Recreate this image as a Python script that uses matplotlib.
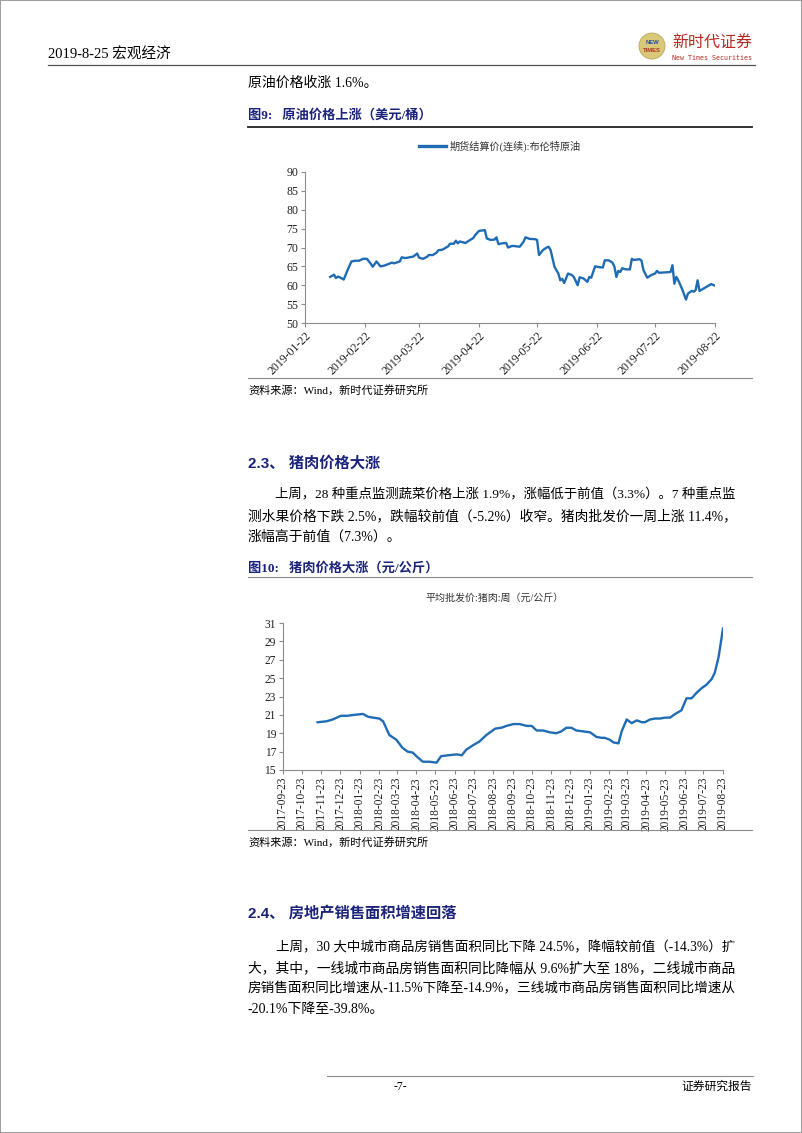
import pandas as pd
import matplotlib
matplotlib.use('Agg')
import matplotlib.pyplot as plt
import matplotlib.dates as mdates
from matplotlib.lines import Line2D
from matplotlib.patches import Rectangle, Ellipse

W, H = 802, 1133
SERIF = ['Liberation Serif', 'Noto Sans CJK SC']
SANS = ['Liberation Sans', 'Noto Sans CJK SC']
NAVY = '#1b237a'
BLUE = '#1f6cb4'

# Brent crude futures settlement price (USD/bbl)
oil_dates = ['2019-02-04', '2019-02-06', '2019-02-07', '2019-02-08', '2019-02-09', '2019-02-11',
             '2019-02-13', '2019-02-15', '2019-02-17', '2019-02-19', '2019-02-21', '2019-02-23',
             '2019-02-25', '2019-02-26', '2019-02-28', '2019-03-02', '2019-03-04', '2019-03-07',
             '2019-03-08', '2019-03-09', '2019-03-12', '2019-03-13', '2019-03-15', '2019-03-18',
             '2019-03-19', '2019-03-21', '2019-03-22', '2019-03-24', '2019-03-26', '2019-03-27',
             '2019-03-29', '2019-03-31', '2019-04-01', '2019-04-03', '2019-04-06', '2019-04-07',
             '2019-04-09', '2019-04-10', '2019-04-11', '2019-04-12', '2019-04-15', '2019-04-17',
             '2019-04-19', '2019-04-20', '2019-04-22', '2019-04-25', '2019-04-26', '2019-04-28',
             '2019-04-30', '2019-05-01', '2019-05-02', '2019-05-04', '2019-05-06', '2019-05-07',
             '2019-05-09', '2019-05-10', '2019-05-13', '2019-05-15', '2019-05-16', '2019-05-18',
             '2019-05-21', '2019-05-22', '2019-05-23', '2019-05-25', '2019-05-27', '2019-05-28',
             '2019-05-29', '2019-05-31', '2019-06-02', '2019-06-03', '2019-06-04', '2019-06-05',
             '2019-06-07', '2019-06-09', '2019-06-10', '2019-06-12', '2019-06-13', '2019-06-15',
             '2019-06-17', '2019-06-18', '2019-06-19', '2019-06-21', '2019-06-23', '2019-06-25',
             '2019-06-26', '2019-06-28', '2019-06-30', '2019-07-01', '2019-07-02', '2019-07-03',
             '2019-07-04', '2019-07-05', '2019-07-07', '2019-07-09', '2019-07-10', '2019-07-11',
             '2019-07-14', '2019-07-15', '2019-07-16', '2019-07-18', '2019-07-20', '2019-07-22',
             '2019-07-23', '2019-07-24', '2019-07-27', '2019-07-30', '2019-07-31', '2019-08-01',
             '2019-08-02', '2019-08-03', '2019-08-05', '2019-08-07', '2019-08-08', '2019-08-10',
             '2019-08-11', '2019-08-12', '2019-08-13', '2019-08-14', '2019-08-16', '2019-08-18',
             '2019-08-20', '2019-08-22']
oil_values = [62.2, 62.8, 61.9, 62.3, 62.1, 61.5,
              64.0, 66.3, 66.5, 66.5, 67.0, 67.0,
              65.7, 64.9, 66.3, 65.0, 65.2, 65.8,
              66.0, 65.8, 66.3, 67.4, 67.2, 67.5,
              67.6, 68.4, 67.3, 67.0, 67.5, 68.0,
              68.0, 68.6, 69.3, 69.4, 70.3, 71.0,
              71.0, 71.8, 71.1, 71.6, 71.2, 71.9,
              72.5, 73.3, 74.4, 74.6, 72.4, 72.0,
              72.1, 72.7, 70.9, 71.1, 71.2, 70.0,
              70.4, 70.4, 70.2, 71.5, 72.7, 72.3,
              72.2, 72.0, 68.0, 69.3, 70.0, 70.2,
              69.3, 64.9, 63.1, 61.3, 61.7, 60.6,
              63.1, 62.7, 62.2, 60.0, 62.1, 61.8,
              60.9, 62.2, 62.0, 65.0, 64.8, 64.7,
              66.6, 66.6, 66.0, 64.9, 62.2, 63.8,
              63.5, 64.5, 64.2, 64.2, 67.0, 66.7,
              66.9, 66.5, 64.0, 62.0, 62.7, 63.1,
              63.8, 63.3, 63.4, 63.5, 65.3, 60.4,
              62.2, 61.3, 59.0, 56.2, 57.8, 58.5,
              58.3, 58.7, 61.3, 58.5, 59.1, 59.7,
              60.3, 59.9]

# average wholesale pork price, weekly (CNY/kg)
pork_dates = ['2017-11-17', '2017-12-01', '2017-12-11', '2017-12-24', '2018-01-03', '2018-01-14',
              '2018-01-28', '2018-02-05', '2018-02-13', '2018-02-23', '2018-03-01', '2018-03-11',
              '2018-03-22', '2018-04-01', '2018-04-09', '2018-04-17', '2018-04-23', '2018-05-03',
              '2018-05-14', '2018-05-25', '2018-06-01', '2018-06-12', '2018-06-26', '2018-07-04',
              '2018-07-11', '2018-07-22', '2018-08-01', '2018-08-12', '2018-08-26', '2018-09-05',
              '2018-09-13', '2018-09-24', '2018-10-04', '2018-10-15', '2018-10-23', '2018-10-31',
              '2018-11-10', '2018-11-21', '2018-12-01', '2018-12-09', '2018-12-17', '2018-12-25',
              '2019-01-02', '2019-01-13', '2019-01-24', '2019-02-03', '2019-02-11', '2019-02-16',
              '2019-02-24', '2019-03-02', '2019-03-10', '2019-03-15', '2019-03-23', '2019-03-31',
              '2019-04-08', '2019-04-16', '2019-04-21', '2019-04-29', '2019-05-07', '2019-05-15',
              '2019-05-23', '2019-05-31', '2019-06-08', '2019-06-18', '2019-06-26', '2019-07-04',
              '2019-07-12', '2019-07-20', '2019-07-28', '2019-08-05', '2019-08-10', '2019-08-16',
              '2019-08-23']
pork_values = [20.2, 20.3, 20.5, 20.9, 20.9, 21.0,
               21.1, 20.8, 20.7, 20.6, 20.3, 18.8,
               18.3, 17.4, 17.0, 16.9, 16.5, 15.9,
               15.9, 15.8, 16.5, 16.6, 16.7, 16.6,
               17.2, 17.7, 18.1, 18.8, 19.5, 19.6,
               19.8, 20.0, 20.0, 19.8, 19.8, 19.3,
               19.3, 19.1, 19.0, 19.2, 19.6, 19.6,
               19.3, 19.2, 19.1, 18.6, 18.5, 18.5,
               18.3, 18.0, 17.9, 19.2, 20.5, 20.1,
               20.4, 20.2, 20.2, 20.5, 20.6, 20.6,
               20.7, 20.7, 21.1, 21.5, 22.8, 22.8,
               23.4, 23.9, 24.3, 24.9, 25.6, 27.3,
               30.4]

oil_ticks = pd.date_range('2019-01-01', '2019-08-01', freq='MS') + pd.Timedelta(days=21)
pork_ticks = pd.date_range('2017-09-01', '2019-08-01', freq='MS') + pd.Timedelta(days=22)

para_23 = ['上周，28 种重点监测蔬菜价格上涨 1.9%，涨幅低于前值（3.3%）。7 种重点监',
           '测水果价格下跌 2.5%，跌幅较前值（-5.2%）收窄。猪肉批发价一周上涨 11.4%，',
           '涨幅高于前值（7.3%）。']
para_24 = ['上周，30 大中城市商品房销售面积同比下降 24.5%，降幅较前值（-14.3%）扩',
           '大，其中，一线城市商品房销售面积同比降幅从 9.6%扩大至 18%，二线城市商品',
           '房销售面积同比增速从-11.5%下降至-14.9%，三线城市商品房销售面积同比增速从',
           '-20.1%下降至-39.8%。']


def fx(x):
    return x / W


def fy(y):
    return 1 - y / H


def hline(fig, y, x0, x1, color, lw):
    fig.add_artist(Line2D([fx(x0), fx(x1)], [fy(y), fy(y)], color=color, lw=lw))


def txt(fig, x, y, s, size, family=SERIF, **kw):
    return fig.text(fx(x), fy(y), s, fontsize=size, va='center', family=family, **kw)


def paragraph(fig, lines, x_indent, y0, step, size=10, right=735):
    # full lines are stretched to the right margin, like the justified original
    arts = []
    for i, s in enumerate(lines):
        x = x_indent if i == 0 else 248
        arts.append((txt(fig, x, y0 + i * step, s, size), x, i < len(lines) - 1))
    fig.canvas.draw()
    r = fig.canvas.get_renderer()
    for t, x, full in arts:
        if full:
            w = t.get_window_extent(r).width
            t.set_fontsize(size * (right - x) / w)


def style_axes(ax, size):
    for side in ['top', 'right']:
        ax.spines[side].set_visible(False)
    for side in ['left', 'bottom']:
        ax.spines[side].set_color('#8c8c8c')
        ax.spines[side].set_linewidth(0.8)
    ax.tick_params(direction='out', length=3, width=0.8, color='#8c8c8c',
                   labelsize=size, labelcolor='#222222', pad=2)
    for lab in ax.get_xticklabels() + ax.get_yticklabels():
        lab.set_family('Liberation Serif')


fig = plt.figure(figsize=(8.02, 11.33), dpi=100)
fig.add_artist(Rectangle((0, 0), 1, 1, transform=fig.transFigure, fill=False,
                         edgecolor='#a0a0a0', lw=1.5))

# page header
txt(fig, 48, 55, '2019-8-25 宏观经济', 10.5)
hline(fig, 65, 48, 755, '#555555', 0.9)
fig.add_artist(Ellipse((fx(652), fy(46)), 26 / W, 26 / H, transform=fig.transFigure,
                       facecolor='#d9c77a', edgecolor='#b9a95a', lw=0.6))
txt(fig, 652, 42, 'NEW', 4.2, family=['Liberation Sans'], color='#1f4fa0', ha='center', weight='bold')
txt(fig, 652, 50, 'TIMES', 4.2, family=['Liberation Sans'], color='#b03020', ha='center', weight='bold')
txt(fig, 672, 43, '新时代证券', 11.5, family=['Noto Sans CJK SC'], color='#b5291f')
txt(fig, 672, 58, 'New Times Securities', 4.8, family=['DejaVu Sans Mono'], color='#b5291f')

# oil section
txt(fig, 248, 83, '原油价格收涨 1.6%。', 10)
txt(fig, 248, 115, '图9:   原油价格上涨（美元/桶）', 9.5, color=NAVY, weight='bold')
hline(fig, 127, 248, 752, '#222222', 1.3)

ax1 = fig.add_axes([fx(305), fy(323), (715 - 305) / W, (323 - 172) / H])
line1, = ax1.plot(pd.to_datetime(oil_dates), oil_values, color=BLUE, lw=1.7,
                  label='期货结算价(连续):布伦特原油')
ax1.set_xlim(pd.Timestamp('2019-01-22'), pd.Timestamp('2019-08-22'))
ax1.set_ylim(50, 90)
ax1.set_yticks(range(50, 91, 5))
ax1.set_xticks(oil_ticks)
ax1.xaxis.set_major_formatter(mdates.DateFormatter('%Y-%m-%d'))
style_axes(ax1, 8.5)
for lab in ax1.get_xticklabels():
    lab.set_rotation(45)
    lab.set_ha('right')
    lab.set_rotation_mode('anchor')
leg = fig.legend(handles=[line1], loc='center', bbox_to_anchor=(fx(500), fy(146)),
                 frameon=False, handlelength=2.6, handletextpad=0.4,
                 prop={'family': SERIF, 'size': 7.3})
leg.get_lines()[0].set_linewidth(2.4)
for t in leg.get_texts():
    t.set_color('#333333')

hline(fig, 378, 248, 752, '#8c8c8c', 0.8)
txt(fig, 248, 390, '资料来源：Wind，新时代证券研究所', 8)

# pork section
txt(fig, 248, 463, '2.3、 猪肉价格大涨', 11, family=SANS, color=NAVY, weight='bold')
paragraph(fig, para_23, 275, 495, 21)
txt(fig, 248, 568, '图10:   猪肉价格大涨（元/公斤）', 9.5, color=NAVY, weight='bold')
hline(fig, 577, 248, 752, '#8c8c8c', 0.8)
txt(fig, 495, 598, '平均批发价:猪肉:周（元/公斤）', 7.2, ha='center', color='#333333')

ax2 = fig.add_axes([fx(283), fy(770), (723 - 283) / W, (770 - 623) / H])
ax2.plot(pd.to_datetime(pork_dates), pork_values, color=BLUE, lw=1.7)
ax2.set_xlim(pd.Timestamp('2017-09-23'), pd.Timestamp('2019-08-23'))
ax2.set_ylim(15, 31)
ax2.set_yticks(range(15, 32, 2))
ax2.set_xticks(pork_ticks)
ax2.xaxis.set_major_formatter(mdates.DateFormatter('%Y-%m-%d'))
style_axes(ax2, 8.3)
for lab in ax2.get_xticklabels():
    lab.set_rotation(90)

hline(fig, 830, 248, 752, '#8c8c8c', 0.8)
txt(fig, 248, 842, '资料来源：Wind，新时代证券研究所', 8)

# property section
txt(fig, 248, 914, '2.4、 房地产销售面积增速回落', 11, family=SANS, color=NAVY, weight='bold')
paragraph(fig, para_24, 276, 948, 20.5)

# footer
hline(fig, 1076, 327, 753, '#8c8c8c', 0.8)
txt(fig, 400, 1087, '-7-', 8.5, ha='center')
txt(fig, 752, 1087, '证券研究报告', 8.5, ha='right')

fig.savefig('out.png', dpi=100)
